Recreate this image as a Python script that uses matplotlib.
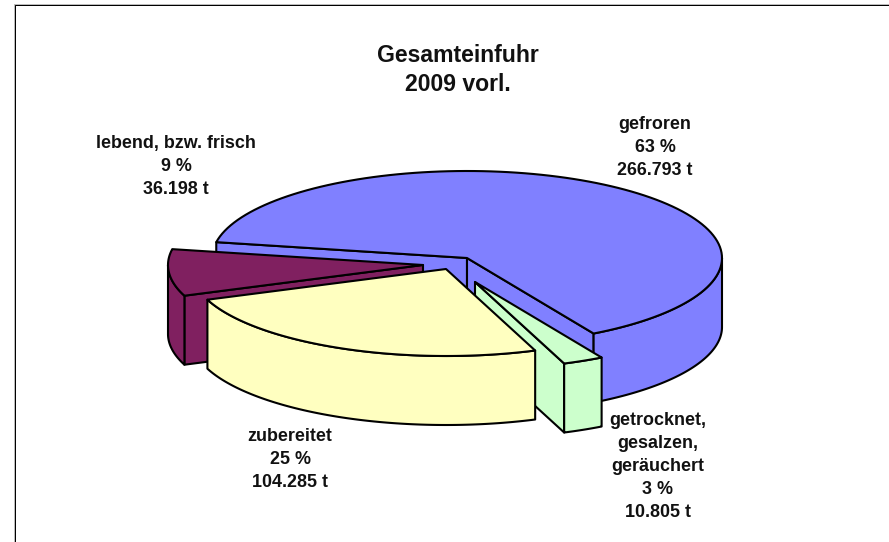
import numpy as np
import matplotlib
matplotlib.use("Agg")
import matplotlib.pyplot as plt
from matplotlib.patches import Polygon

# data
categories = ["gefroren", "getrocknet,\ngesalzen,\ngeräuchert", "zubereitet", "lebend, bzw. frisch"]
tonnes = [266793, 10805, 104285, 36198]
percent = [63, 3, 25, 9]
title_lines = ["Gesamteinfuhr", "2009 vorl."]

# style / layout
colors = ["#8080FF", "#CCFFCC", "#FFFFC0", "#802060"]
START_ANGLE = 169.5
RX, RY, DEPTH = 255.0, 87.0, 69.0
PIE_CENTRE = (455.0, 265.0)
explode_offsets = [(12, -7), (20, 17), (-9, 4), (-32, 0)]
label_pos = [(655, 147.5), (658, 466.5), (290, 459.5), (176, 166.5)]
draw_order = [0, 3, 1, 2]
LW = 1.5
EC = "black"
FONT = "Liberation Sans"

W, H = 889, 542
fig = plt.figure(figsize=(W / 100, H / 100), dpi=100, facecolor="white")
ax = fig.add_axes([0, 0, 1, 1])
ax.set_xlim(0, W)
ax.set_ylim(H, 0)
ax.axis("off")

# chart frame
ax.plot([13.5, 13.5, W], [H, 3.5, 3.5], color="#BBBBBB", lw=0.72, solid_capstyle="butt", zorder=0)
ax.plot([14.5, 14.5, W], [H, 4.5, 4.5], color="black", lw=0.72, solid_capstyle="butt", zorder=0)

fractions = np.array(tonnes, dtype=float) / sum(tonnes)
sweeps = fractions * 360.0
ends = START_ANGLE - np.cumsum(sweeps)
starts = ends + sweeps


def rim(cx, cy, a0, a1, dz=0.0, n=120):
    t = np.radians(np.linspace(a0, a1, n))
    return np.column_stack([cx + RX * np.cos(t), cy - RY * np.sin(t) + dz])


def face(pts, color, z):
    ax.add_patch(Polygon(pts, closed=True, facecolor=color, edgecolor=EC, lw=LW,
                         joinstyle="round", zorder=z))


def wall_ranges(a0, a1):
    """Parts of the clockwise arc a0 -> a1 on the viewer-facing half (sin < 0)."""
    out = []
    for k in (-360, 0, 360):
        lo, hi = max(a1, -180 + k), min(a0, 0 + k)
        if lo < hi:
            out.append((hi, lo))
    return out


z = 1
for i in draw_order:
    cx = PIE_CENTRE[0] + explode_offsets[i][0]
    cy = PIE_CENTRE[1] + explode_offsets[i][1]
    a0, a1 = starts[i], ends[i]
    apex = np.array([cx, cy])
    # radial faces
    for ang, visible_side in ((a0, 1), (a1, -1)):
        t = np.radians(ang)
        p = np.array([cx + RX * np.cos(t), cy - RY * np.sin(t)])
        # outward normal of the radial plane, viewer-facing when it points down the screen
        normal_sin = np.sin(t + visible_side * np.pi / 2)
        if normal_sin < 0:
            face([apex, p, p + [0, DEPTH], apex + [0, DEPTH]], colors[i], z)
            z += 1
    # outer wall
    for hi, lo in wall_ranges(a0, a1):
        top = rim(cx, cy, hi, lo)
        bot = rim(cx, cy, lo, hi, DEPTH)
        face(np.vstack([top, bot]), colors[i], z)
        z += 1
    # top face
    face(np.vstack([[apex], rim(cx, cy, a0, a1)]), colors[i], z)
    z += 1

# labels
for cat, pct, t, (x, y) in zip(categories, percent, tonnes, label_pos):
    amount = f"{t:,}".replace(",", ".")
    ax.text(x, y, f"{cat}\n{pct} %\n{amount} t", ha="center", va="center",
            multialignment="center", fontsize=12.9, fontweight="bold", family=FONT,
            linespacing=1.47, color="#111111", zorder=50)

ax.text(458, 70, "\n".join(title_lines), ha="center", va="center", multialignment="center",
        fontsize=16.6, fontweight="bold", family=FONT, linespacing=1.38, color="#111111", zorder=50)

fig.savefig("out.png", dpi=100)
